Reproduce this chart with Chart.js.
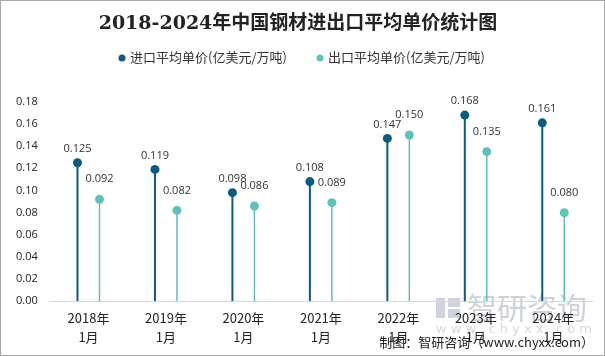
<!DOCTYPE html>
<html><head><meta charset="utf-8">
<script src="https://cdn.jsdelivr.net/npm/chart.js@4/dist/chart.umd.min.js"></script>
<style>
html,body{margin:0;padding:0;background:#fff}
canvas{display:block}
</style></head><body>
<canvas id="c" width="605" height="356"></canvas>
<script>
const categories = [['2018年','1月'],['2019年','1月'],['2020年','1月'],['2021年','1月'],['2022年','1月'],['2023年','1月'],['2024年','1月']];
const importValues = [0.125,0.119,0.098,0.108,0.147,0.168,0.161];
const exportValues = [0.092,0.082,0.086,0.089,0.150,0.135,0.080];
const seriesNames = ['进口平均单价(亿美元/万吨)','出口平均单价(亿美元/万吨)'];
const yMin = 0, yMax = 0.18, yStep = 0.02;

const IMPORT_COLOR = '#0b5c7e';
const EXPORT_COLOR = '#5fc1b9';
const CJK = '"Noto Sans CJK SC", "Noto Sans", sans-serif';

const lollipop = {
  id:'lollipop',
  beforeDraw(chart){
    const ctx = chart.ctx;
    ctx.save();
    ctx.fillStyle='#fff';
    ctx.fillRect(0,0,chart.width,chart.height);
    // watermark
    ctx.fillStyle='#cfd4dc';
    ctx.fillRect(436,298,9,20);
    ctx.fillRect(448,298,12,9);
    ctx.fillRect(448,309,12,9);
    ctx.font='30px '+CJK;
    ctx.textBaseline='middle';
    ctx.fillStyle='#cdd1d8';
    ctx.fillText('智研咨询',467,308);
    ctx.font='13px "DejaVu Sans", sans-serif';
    ctx.fillStyle='#d6dae0';
    ctx.fillText('w w w . c h y x x . c o m',436,330);
    // legend
    const lx=[122,320];
    chart.data.datasets.forEach((ds,di)=>{
      ctx.beginPath();
      ctx.arc(lx[di],58,3.5,0,Math.PI*2);
      ctx.fillStyle=ds.backgroundColor;
      ctx.fill();
      ctx.font='13px '+CJK;
      ctx.fillStyle='#333';
      ctx.textAlign='left';
      ctx.textBaseline='middle';
      ctx.fillText(ds.label,lx[di]+8,57);
    });
    ctx.restore();
  },
  afterDatasetsDraw(chart){
    const ctx = chart.ctx;
    ctx.save();
    chart.data.datasets.forEach((ds,di)=>{
      const meta = chart.getDatasetMeta(di);
      meta.data.forEach((el,i)=>{
        ctx.beginPath();
        ctx.arc(el.x, el.y, 4.5, 0, Math.PI*2);
        ctx.fillStyle = ds.backgroundColor;
        ctx.fill();
        ctx.font = '11px "Open Sans", "Noto Sans", sans-serif';
        ctx.fillStyle = '#333';
        ctx.textAlign='center';
        ctx.textBaseline='middle';
        ctx.fillText(ds.data[i].toFixed(3), el.x, el.y - (di===0 ? 14 : 20));
      });
    });
    ctx.restore();
  },
  afterDraw(chart){
    const ctx = chart.ctx;
    ctx.save();
    ctx.font='13px '+CJK;
    ctx.fillStyle='#222';
    ctx.textBaseline='middle';
    ctx.textAlign='right';
    ctx.fillText('制图：智研咨询（www.chyxx.com）',594,342);
    ctx.strokeStyle='#a8a8a8';
    ctx.lineWidth=1;
    ctx.strokeRect(0.5,0.5,chart.width-1,chart.height-1);
    ctx.restore();
  }
};

new Chart(document.getElementById('c'),{
  type:'bar',
  data:{
    labels:categories,
    datasets:[
      {label:seriesNames[0],data:importValues,backgroundColor:IMPORT_COLOR,borderWidth:0,maxBarThickness:2},
      {label:seriesNames[1],data:exportValues,backgroundColor:EXPORT_COLOR,borderWidth:0,maxBarThickness:1.5}
    ]
  },
  options:{
    responsive:false,
    animation:false,
    categoryPercentage:0.568,
    barPercentage:1,
    layout:{padding:{left:4,right:13,top:9,bottom:3}},
    plugins:{
      title:{display:true,text:'2018-2024年中国钢材进出口平均单价统计图',color:'#222',
        font:{family:'"DejaVu Serif", "Noto Sans CJK SC", serif',size:19,weight:'bold'},padding:{top:4,bottom:66}},
      legend:{display:false},
      tooltip:{enabled:false}
    },
    scales:{
      x:{grid:{display:false,drawTicks:false},border:{display:true,color:'#d9d9d9'},
        ticks:{color:'#222',font:{family:CJK,size:13,lineHeight:1.45},padding:7,maxRotation:0}},
      y:{min:yMin,max:yMax,grid:{display:false,drawTicks:false},border:{display:false},
        ticks:{stepSize:yStep,color:'#222',padding:12,font:{family:'"Open Sans", "Noto Sans", sans-serif',size:11},
          callback:v=>v.toFixed(2)}}
    }
  },
  plugins:[lollipop]
});
</script>
</body></html>
